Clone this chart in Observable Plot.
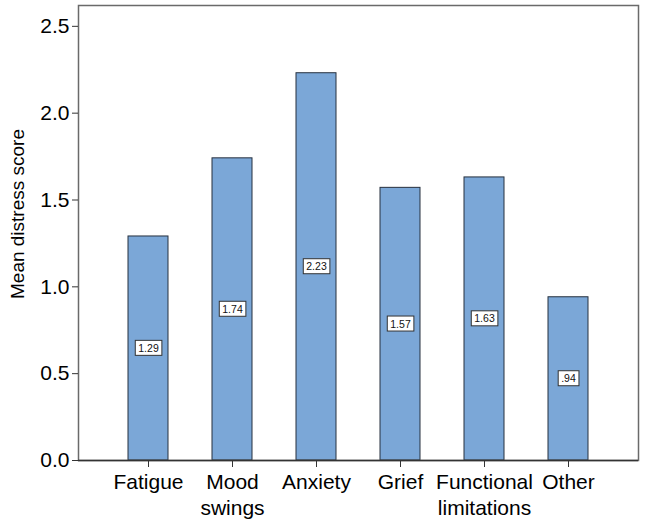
<!DOCTYPE html>
<html>
<head>
<meta charset="utf-8">
<script src="https://cdn.jsdelivr.net/npm/d3@7"></script>
<script src="https://cdn.jsdelivr.net/npm/@observablehq/plot@0.6"></script>
<style>
  html, body { margin: 0; padding: 0; background: #fff; }
</style>
</head>
<body>
<div id="chart"></div>
<script>
const categories = ["Fatigue", "Mood\nswings", "Anxiety", "Grief", "Functional\nlimitations", "Other"];
const values = [1.29, 1.74, 2.23, 1.57, 1.63, 0.94];
const yTicks = [0, 0.5, 1.0, 1.5, 2.0, 2.5];
const yTitle = "Mean distress score";

const data = categories.map((c, i) => ({cat: c, value: values[i]}));
const fmt = v => d3.format(".2f")(v).replace(/^0\./, ".");

const chart = Plot.plot({
  width: 646,
  height: 527,
  marginLeft: 78,
  marginRight: 8,
  marginTop: 5,
  marginBottom: 67,
  style: {fontFamily: "'Liberation Sans', Arial, sans-serif", fontSize: "21px", color: "#000", background: "#fff"},
  x: {domain: categories, paddingInner: 0.52, paddingOuter: 0.593},
  y: {domain: [0, 2.62]},
  marks: [
    Plot.barY(data, {x: "cat", y: "value", fill: "#7ba7d7", stroke: "#26303e", strokeWidth: 1}),
    Plot.frame({stroke: "#6a6a6a", strokeWidth: 1.5}),
    Plot.ruleY([0], {stroke: "#333", strokeWidth: 1.5}),
    Plot.axisX({tickSize: 7, tickPadding: 4, lineHeight: 1.2, label: null, stroke: "#333", fontSize: 21}),
    Plot.axisY({ticks: yTicks, tickFormat: d3.format(".1f"), tickSize: 6, tickPadding: 3, stroke: "#333", fontSize: 21, label: null}),
    Plot.text([yTitle], {text: d => d, frameAnchor: "left", textAnchor: "middle", lineAnchor: "middle", rotate: -90, dx: -61, dy: -19, fontSize: 19, fill: "#000"}),
    Plot.text(data, {x: "cat", y: d => d.value / 2, text: d => fmt(d.value), fontSize: 10.5, fill: "#111", className: "vlabel"})
  ]
});

document.getElementById("chart").append(chart);

// white boxes behind value labels
chart.querySelectorAll("g.vlabel text").forEach(t => {
  const b = t.getBBox();
  const r = document.createElementNS("http://www.w3.org/2000/svg", "rect");
  r.setAttribute("x", b.x - 3);
  r.setAttribute("y", b.y - 1.5);
  r.setAttribute("width", b.width + 6);
  r.setAttribute("height", b.height + 3);
  r.setAttribute("fill", "#fff");
  r.setAttribute("stroke", "#333");
  r.setAttribute("stroke-width", 1);
  const tr = t.getAttribute("transform");
  if (tr) r.setAttribute("transform", tr);
  t.parentNode.insertBefore(r, t);
});
</script>
</body>
</html>
